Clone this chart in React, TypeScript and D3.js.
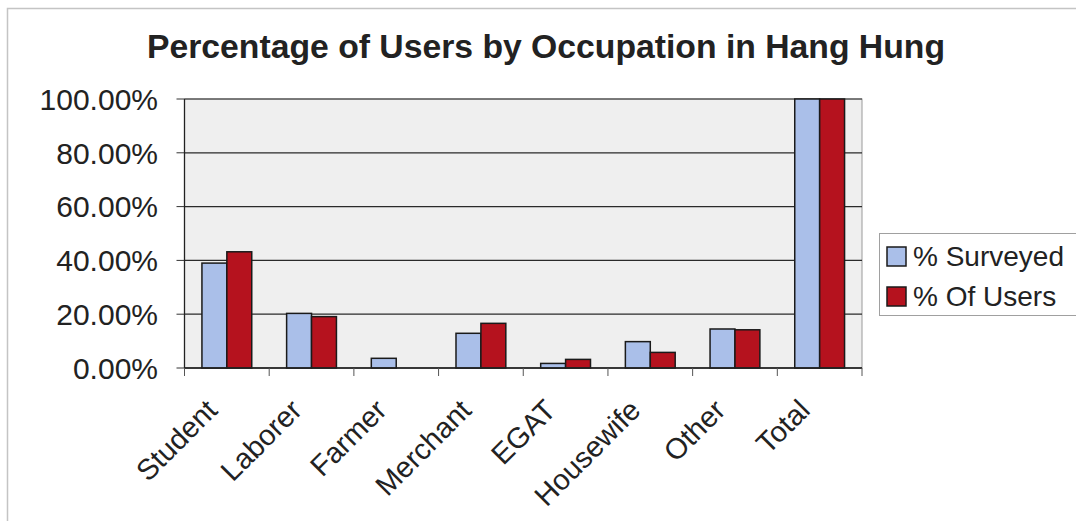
import React from "react";
import * as d3 from "d3";

const categories = ["Student", "Laborer", "Farmer", "Merchant", "EGAT", "Housewife", "Other", "Total"];
const surveyed = [0.39, 0.203, 0.036, 0.129, 0.017, 0.098, 0.145, 1.0];
const ofUsers = [0.432, 0.191, 0, 0.166, 0.032, 0.058, 0.142, 1.0];
const yTicks = [0, 0.2, 0.4, 0.6, 0.8, 1.0];
const seriesNames = ["% Surveyed", "% Of Users"];
const colors = ["#aabfe9", "#b5121e"];

const W = 1076;
const H = 521;
const FONT = "'Liberation Sans', Arial, sans-serif";

export default function App() {
  const left = 184.5;
  const right = 862;
  const top = 99;
  const bottom = 368;

  const x = d3.scaleBand<string>().domain(categories).range([left, right]).padding(0);
  const y = d3.scaleLinear().domain([0, 1]).range([bottom, top]);
  const step = x.step();
  const bw = step / 3.4;
  const fmt = (v: number) => (v * 100).toFixed(2) + "%";

  const series = [surveyed, ofUsers];

  return (
    <svg width={W} height={H} style={{ position: "absolute", left: 0, top: 0 }} fontFamily={FONT}>
      <rect x={0} y={0} width={W} height={H} fill="#ffffff" />
      {/* outer chart border */}
      <rect x={7.5} y={8.5} width={1070} height={520} fill="none" stroke="#c4c4c4" strokeWidth={1.5} />
      {/* title */}
      <text
        x={546}
        y={58}
        textAnchor="middle"
        fontSize={33}
        fontWeight="bold"
        fill="#222"
        textLength={798}
        lengthAdjust="spacingAndGlyphs"
      >
        Percentage of Users by Occupation in Hang Hung
      </text>
      {/* plot area */}
      <rect x={left} y={top} width={right - left} height={bottom - top} fill="#efefef" stroke="#9a9a9a" strokeWidth={1} />
      {/* gridlines */}
      {yTicks.map((t) => (
        <line key={"g" + t} x1={left} x2={right} y1={y(t)} y2={y(t)} stroke="#2a2a2a" strokeWidth={1.2} />
      ))}
      {/* y ticks and labels */}
      {yTicks.map((t) => (
        <g key={"y" + t}>
          <line x1={left - 8} x2={left} y1={y(t)} y2={y(t)} stroke="#333" strokeWidth={1} />
          <text x={158} y={y(t)} dy="0.36em" textAnchor="end" fontSize={30} fill="#222">
            {fmt(t)}
          </text>
        </g>
      ))}
      {/* bars */}
      {categories.map((c, i) => {
        const cx = (x(c) as number) + step / 2;
        return (
          <g key={c}>
            {series.map((s, j) =>
              s[i] > 0 ? (
                <rect
                  key={j}
                  x={cx - bw + j * bw}
                  y={y(s[i])}
                  width={bw}
                  height={bottom - y(s[i])}
                  fill={colors[j]}
                  stroke="#1a1a1a"
                  strokeWidth={1.5}
                />
              ) : null
            )}
          </g>
        );
      })}
      {/* axes */}
      <line x1={left} x2={left} y1={top} y2={bottom} stroke="#222" strokeWidth={1.3} />
      <line x1={left} x2={right} y1={bottom} y2={bottom} stroke="#222" strokeWidth={1.3} />
      {categories.map((c, i) => (
        <line key={"xt" + i} x1={(x(c) as number)} x2={(x(c) as number)} y1={bottom} y2={bottom + 8} stroke="#555" strokeWidth={1} />
      ))}
      <line x1={right} x2={right} y1={bottom} y2={bottom + 8} stroke="#555" strokeWidth={1} />
      {/* x labels */}
      {categories.map((c) => {
        const cx = (x(c) as number) + step / 2;
        return (
          <text
            key={"xl" + c}
            transform={`translate(${cx - 8},${bottom + 44}) rotate(-45)`}
            textAnchor="end"
            fontSize={29}
            fill="#222"
          >
            {c}
          </text>
        );
      })}
      {/* legend */}
      <rect x={879.5} y={233.5} width={200} height={82} fill="#ffffff" stroke="#a0a0a0" strokeWidth={1} />
      {seriesNames.map((n, j) => (
        <g key={n}>
          <rect x={887} y={247 + j * 40} width={19} height={19} fill={colors[j]} stroke="#1a1a1a" strokeWidth={1.5} />
          <text x={913} y={266 + j * 40} fontSize={28} fill="#222">
            {n}
          </text>
        </g>
      ))}
    </svg>
  );
}
